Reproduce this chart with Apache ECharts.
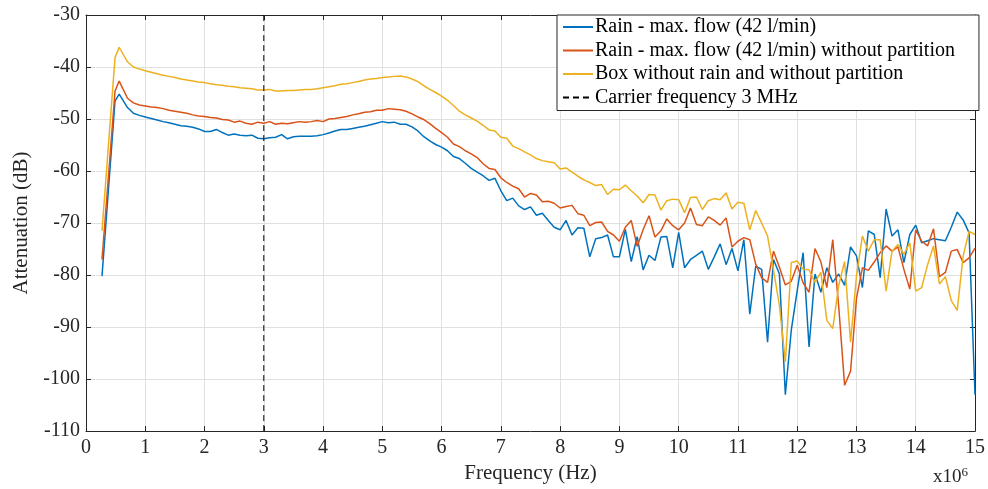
<!DOCTYPE html>
<html>
<head>
<meta charset="utf-8">
<script src="https://cdn.jsdelivr.net/npm/echarts@6/dist/echarts.min.js"></script>
<style>html,body{margin:0;padding:0;background:#fff}#c{width:988px;height:489px}</style>
</head>
<body>
<div id="c"></div>
<script>
// Frequency (MHz, axis shown as x10^6 Hz)
const freq = [0.27,0.49,0.56,0.7,0.8,0.9,1.0,1.1,1.2,1.3,1.4,1.5,1.6,1.7,1.8,1.9,2.0,2.1,2.2,2.3,2.4,2.5,2.6,2.7,2.8,2.9,3.0,3.1,3.2,3.3,3.4,3.5,3.6,3.7,3.8,3.9,4.0,4.1,4.2,4.3,4.4,4.5,4.6,4.7,4.8,4.9,5.0,5.1,5.2,5.3,5.4,5.5,5.6,5.7,5.8,5.9,6.0,6.1,6.2,6.3,6.4,6.5,6.6,6.7,6.8,6.9,7.0,7.1,7.2,7.3,7.4,7.5,7.6,7.7,7.8,7.9,8.0,8.1,8.2,8.3,8.4,8.5,8.6,8.7,8.8,8.9,9.0,9.1,9.2,9.3,9.4,9.5,9.6,9.7,9.8,9.9,10.0,10.1,10.2,10.3,10.4,10.5,10.6,10.7,10.8,10.9,11.0,11.1,11.2,11.3,11.4,11.5,11.6,11.7,11.8,11.9,12.0,12.1,12.2,12.3,12.4,12.5,12.6,12.7,12.8,12.9,13.0,13.1,13.2,13.3,13.4,13.5,13.6,13.7,13.8,13.9,14.0,14.1,14.2,14.3,14.4,14.5,14.6,14.7,14.8,14.9,15.0];

const rainMax = [-80.2,-46.5,-45.2,-47.8,-48.9,-49.3,-49.6,-49.9,-50.2,-50.5,-50.7,-51.0,-51.3,-51.4,-51.6,-51.9,-52.4,-52.4,-52.0,-52.6,-53.1,-52.9,-53.1,-53.2,-53.1,-53.7,-53.8,-53.6,-53.5,-53.0,-53.8,-53.4,-53.3,-53.3,-53.3,-53.2,-53.0,-52.7,-52.3,-52.0,-52.0,-51.8,-51.6,-51.4,-51.1,-50.8,-50.5,-50.7,-50.6,-51.0,-51.0,-51.5,-52.3,-53.4,-54.2,-54.9,-55.4,-56.1,-57.2,-57.6,-58.5,-59.5,-60.2,-60.9,-61.8,-61.4,-63.8,-65.7,-65.2,-66.7,-67.4,-66.9,-68.5,-68.1,-69.5,-70.8,-71.3,-69.5,-72.3,-70.9,-71.0,-76.5,-73.0,-72.8,-72.3,-76.5,-76.5,-71.2,-77.4,-72.6,-79.0,-76.2,-77.2,-72.7,-72.6,-78.6,-71.8,-78.6,-77.0,-76.2,-75.4,-78.9,-76.5,-74.0,-78.0,-74.9,-79.2,-73.2,-87.5,-78.3,-78.9,-92.9,-77.0,-79.8,-103.0,-90.6,-83.0,-75.7,-93.8,-79.8,-83.3,-78.6,-81.4,-79.8,-82.0,-74.6,-76.3,-82.4,-71.5,-72.2,-80.5,-67.3,-72.5,-71.3,-77.6,-72.2,-70.4,-73.8,-73.4,-73.0,-73.2,-73.4,-70.8,-67.9,-69.4,-71.9,-103.0];

const rainNoPartition = [-77.0,-44.6,-42.7,-46.0,-46.9,-47.3,-47.5,-47.7,-47.8,-48.0,-48.3,-48.5,-48.7,-48.9,-49.2,-49.4,-49.5,-49.7,-49.8,-50.1,-50.2,-50.6,-50.4,-50.8,-51.0,-50.6,-50.8,-50.5,-51.0,-50.8,-50.9,-50.7,-50.5,-50.6,-50.5,-50.3,-50.5,-50.0,-49.9,-49.7,-49.5,-49.2,-49.0,-48.7,-48.6,-48.3,-48.3,-48.0,-48.1,-48.2,-48.5,-49.0,-49.6,-50.1,-50.9,-51.8,-52.6,-53.5,-54.8,-55.3,-56.1,-56.7,-57.4,-58.6,-59.5,-59.7,-61.3,-62.2,-62.9,-63.4,-65.0,-64.3,-64.6,-65.9,-65.8,-66.2,-67.1,-66.8,-66.6,-68.2,-68.5,-70.5,-69.9,-69.8,-71.6,-72.3,-73.5,-70.8,-69.5,-74.5,-71.3,-68.6,-72.7,-71.5,-69.2,-70.5,-71.3,-70.0,-67.1,-70.3,-70.5,-68.8,-69.5,-70.4,-69.0,-74.6,-73.5,-72.8,-73.2,-77.9,-80.5,-81.4,-75.4,-78.5,-81.9,-81.2,-78.1,-81.5,-83.3,-74.9,-77.5,-82.4,-73.2,-86.0,-101.2,-98.5,-84.5,-78.6,-79.1,-77.5,-75.7,-74.4,-75.4,-74.6,-78.9,-82.7,-71.3,-73.5,-74.4,-71.1,-80.3,-79.5,-75.4,-75.1,-77.6,-76.7,-74.8];

const boxNoRain = [-71.5,-38.2,-36.2,-39.0,-40.0,-40.4,-40.7,-41.0,-41.3,-41.6,-41.8,-42.0,-42.3,-42.5,-42.7,-42.9,-43.0,-43.2,-43.4,-43.5,-43.7,-43.8,-44.0,-44.1,-44.2,-44.4,-44.4,-44.3,-44.6,-44.6,-44.5,-44.5,-44.4,-44.3,-44.3,-44.2,-44.0,-43.8,-43.6,-43.3,-43.2,-43.0,-42.8,-42.5,-42.3,-42.2,-42.0,-41.9,-41.8,-41.75,-41.9,-42.3,-42.8,-43.6,-44.3,-44.9,-45.6,-46.4,-47.4,-48.5,-49.2,-49.8,-50.4,-51.2,-52.1,-52.3,-53.5,-53.7,-55.2,-55.7,-56.3,-56.9,-57.6,-58.0,-58.2,-58.4,-59.6,-59.4,-60.2,-61.0,-61.7,-62.2,-62.8,-62.6,-64.5,-63.5,-63.6,-62.7,-63.8,-64.8,-66.1,-64.5,-64.6,-67.5,-65.7,-65.4,-65.5,-68.0,-65.1,-65.0,-67.4,-65.7,-65.3,-65.5,-64.2,-67.3,-66.0,-66.2,-71.3,-67.6,-70.0,-72.5,-79.0,-85.9,-96.7,-77.6,-77.3,-78.9,-79.0,-81.4,-79.5,-88.7,-90.3,-82.0,-77.4,-92.9,-80.2,-72.5,-75.4,-73.2,-73.2,-83.1,-75.4,-74.1,-76.0,-73.8,-83.1,-82.4,-78.0,-74.4,-81.7,-80.3,-84.9,-86.8,-76.3,-71.6,-72.2];

const carrierX = [3, 3];
const carrierY = [-110, -30];

const xTicks = {min: 0, max: 15, interval: 1};
const yTicks = {min: -110, max: -30, interval: 10};

const names = ['Rain - max. flow (42 l/min)','Rain - max. flow (42 l/min) without partition','Box without rain and without partition','Carrier frequency 3 MHz'];
const colors = ['#0072BD','#D95319','#EDB120','#000000'];

function pairs(xs, ys){ return xs.map((x,i)=>[x, ys[i]]); }

const FONT = 'Liberation Serif';
const AX = '#262626';

const chart = echarts.init(document.getElementById('c'), null, {renderer:'canvas'});
const baseAxis = {
  axisLine:{show:true, onZero:false, lineStyle:{color:AX, width:1}},
  axisTick:{show:true, inside:true, length:5, lineStyle:{color:AX}},
};
chart.setOption({
  animation:false,
  backgroundColor:'#ffffff',
  grid:{left:86, right:11, top:15, bottom:54, containLabel:false},
  legend:{
    orient:'vertical', left:557, top:15,
    backgroundColor:'#ffffff', borderColor:'#262626', borderWidth:1, borderRadius:0,
    padding:[2,24,3,5], itemGap:3.5, itemWidth:30, itemHeight:18,
    itemStyle:{opacity:0},
    textStyle:{fontFamily:FONT, fontSize:20, color:'#000', padding:[0,0,0,-3]},
    data: names
  },
  xAxis:[
    Object.assign({type:'value', position:'bottom', min:xTicks.min, max:xTicks.max, interval:xTicks.interval,
      name:'Frequency (Hz)', nameLocation:'middle', nameGap:30,
      nameTextStyle:{fontFamily:FONT, fontSize:21, color:AX},
      axisLabel:{fontFamily:FONT, fontSize:20, color:AX, margin:7},
      splitLine:{show:true, lineStyle:{color:'#e0e0e0', width:1}}}, baseAxis),
    Object.assign({type:'value', position:'top', min:xTicks.min, max:xTicks.max, interval:xTicks.interval,
      axisLabel:{show:false}, splitLine:{show:false}}, baseAxis)
  ],
  yAxis:[
    Object.assign({type:'value', position:'left', min:yTicks.min, max:yTicks.max, interval:yTicks.interval,
      name:'Attenuation (dB)', nameLocation:'middle', nameGap:54,
      nameTextStyle:{fontFamily:FONT, fontSize:21, color:AX},
      axisLabel:{fontFamily:FONT, fontSize:20, color:AX, margin:6},
      splitLine:{show:true, lineStyle:{color:'#e0e0e0', width:1}}}, baseAxis),
    Object.assign({type:'value', position:'right', min:yTicks.min, max:yTicks.max, interval:yTicks.interval,
      axisLabel:{show:false}, splitLine:{show:false}}, baseAxis)
  ],
  graphic:[{
    type:'text', left:933, top:466,
    style:{text:'{a|x10}{b|6}', rich:{a:{fontFamily:FONT, fontSize:19, fill:AX}, b:{fontFamily:FONT, fontSize:13, fill:AX, verticalAlign:'top', padding:[0,0,10,0]}}}
  }],
  series:[
    {name:names[0], type:'line', data:pairs(freq, rainMax), symbol:'none', lineStyle:{color:colors[0], width:1.5}, itemStyle:{color:colors[0]}},
    {name:names[1], type:'line', data:pairs(freq, rainNoPartition), symbol:'none', lineStyle:{color:colors[1], width:1.5}, itemStyle:{color:colors[1]}},
    {name:names[2], type:'line', data:pairs(freq, boxNoRain), symbol:'none', lineStyle:{color:colors[2], width:1.5}, itemStyle:{color:colors[2]}},
    {name:names[3], type:'line', data:pairs(carrierX, carrierY), symbol:'none', lineStyle:{color:colors[3], width:1, type:[6,4]}, itemStyle:{color:colors[3]}}
  ]
});
</script>
</body>
</html>
